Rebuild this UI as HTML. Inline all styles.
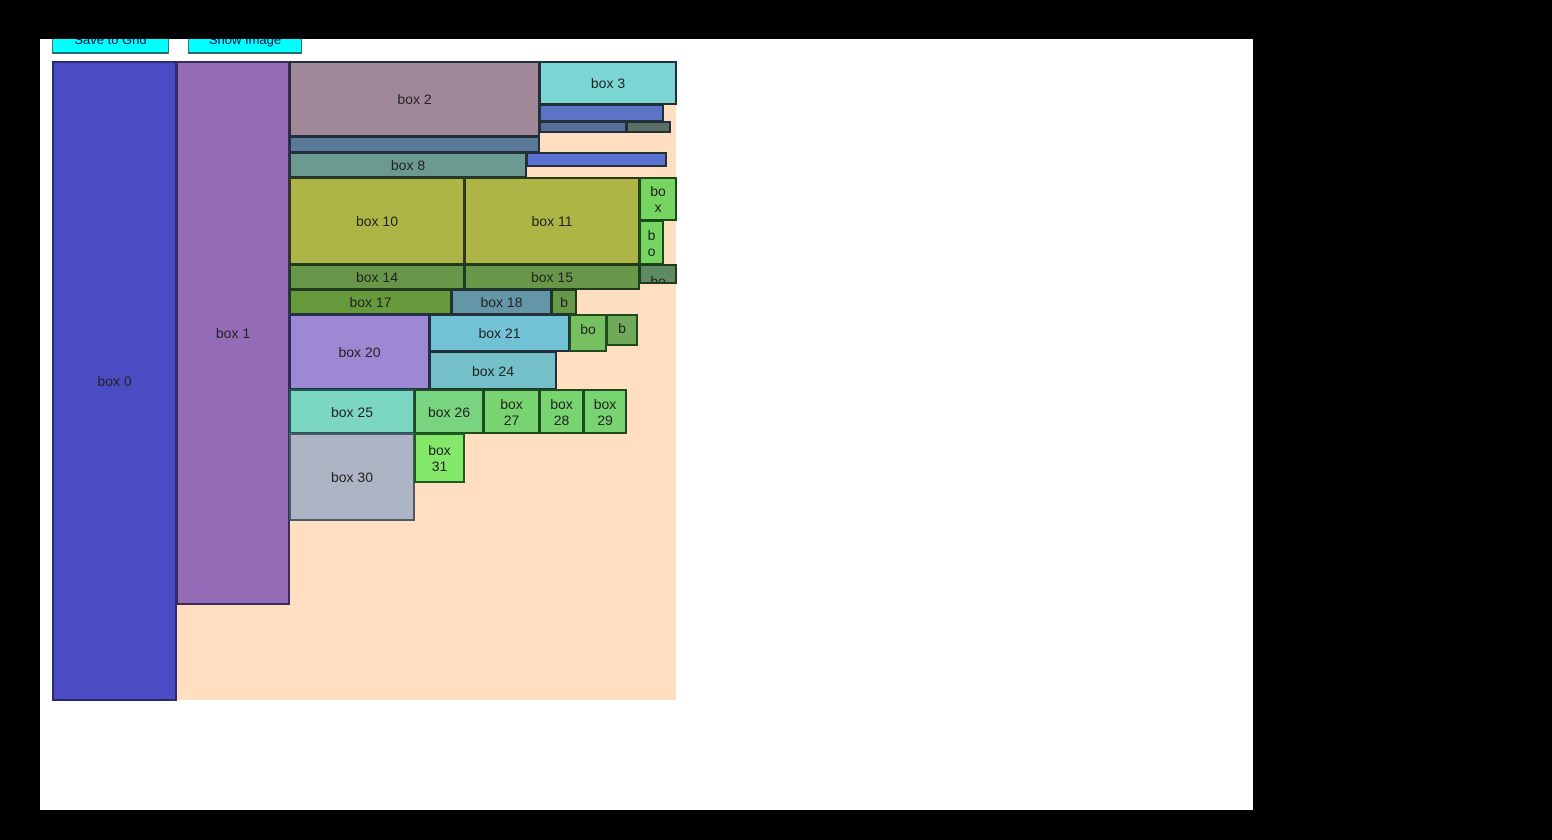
<!DOCTYPE html>
<html><head><meta charset="utf-8">
<style>
html,body{margin:0;padding:0;background:#000;width:1552px;height:840px;overflow:hidden;font-family:"Liberation Sans",sans-serif;}
#panel{position:absolute;left:40px;top:39px;width:1213px;height:771px;background:#fff;overflow:hidden;}
.btn{position:absolute;top:-10px;height:25px;background:#00ffff;border:1px solid #2a7a7a;border-bottom:2px solid #2a6a6a;box-sizing:border-box;font-size:13px;color:#114;text-align:center;line-height:20px;}
#peach{position:absolute;left:12px;top:22px;width:624px;height:639px;background:#ffdfc0;}
.b{position:absolute;box-sizing:border-box;border:2px solid #23303a;display:flex;align-items:center;justify-content:center;text-align:center;font-size:14px;line-height:16px;color:#222;overflow:hidden;}
</style></head><body>
<div id="panel">
<div class="btn" style="left:12px;width:117px;">Save to Grid</div>
<div class="btn" style="left:148px;width:114px;">Show Image</div>
<div id="peach"></div>
</div>
<div id="boxes"></div>
<script>
var B=[
[52,61,176,700,'#4b4bc3','box 0','#2a2a70'],
[176,61,289,604,'#956bb8','box 1','#3a2a5a'],
[289,61,539,136,'#a08898','box 2'],
[539,61,676,104,'#7bd6d4','box 3'],
[539,104,663,121,'#5b74c6',''],
[539,121,626,132,'#5a6e9a',''],
[626,121,670,132,'#5b6f66',''],
[289,136,539,152,'#5b7a9a',''],
[289,152,526,177,'#6a9a90','box 8'],
[526,152,666,166,'#5b72d2',''],
[289,177,464,264,'#adb547','box 10','#2a3a1a'],
[464,177,639,264,'#adb547','box 11','#2a3a1a'],
[639,177,676,220,'#76d461','bo<br>x','#1a4a1a'],
[639,220,663,264,'#76d461','b<br>o','#1a4a1a'],
[289,264,464,289,'#67984a','box 14','#1f3a1f'],
[464,264,639,289,'#67984a','box 15','#1f3a1f'],
[639,264,676,283,'#5e8a62','<span style="position:relative;top:7px">bo</span>','#1f3a1f'],
[289,289,451,314,'#679a3c','box 17','#1f3a1f'],
[451,289,551,314,'#6496a8','box 18'],
[551,289,576,314,'#67984a','b','#1f3a1f'],
[289,314,429,389,'#9d88d4','box 20','#2a2a5a'],
[429,314,569,351,'#72c2d6','box 21'],
[569,314,606,351,'#76c062','<span style="position:relative;top:-4px">bo</span>','#1f4a1f'],
[606,314,637,345,'#6faa5a','<span style="position:relative;top:-2px">b</span>','#1f4a1f'],
[429,351,556,389,'#74c0c8','box 24'],
[289,389,414,433,'#7bd6c4','box 25','#1f5a4a'],
[414,389,483,433,'#78d47e','box 26','#1f4a1f'],
[483,389,539,433,'#78d470','box<br>27','#1f4a1f'],
[539,389,583,433,'#78d470','box<br>28','#1f4a1f'],
[583,389,626,433,'#78d470','box<br>29','#1f4a1f'],
[289,433,414,520,'#adb4c4','box 30','#4a5a6a'],
[414,433,464,482,'#84e96a','box<br>31','#1f5a1f']
];
var h='';
B.forEach(function(a){h+='<div class="b" style="left:'+a[0]+'px;top:'+a[1]+'px;width:'+(a[2]-a[0]+1)+'px;height:'+(a[3]-a[1]+1)+'px;background:'+a[4]+';border-color:'+(a[6]||'#23303a')+'">'+a[5]+'</div>';});
document.getElementById('boxes').innerHTML=h;
</script>
</body></html>
